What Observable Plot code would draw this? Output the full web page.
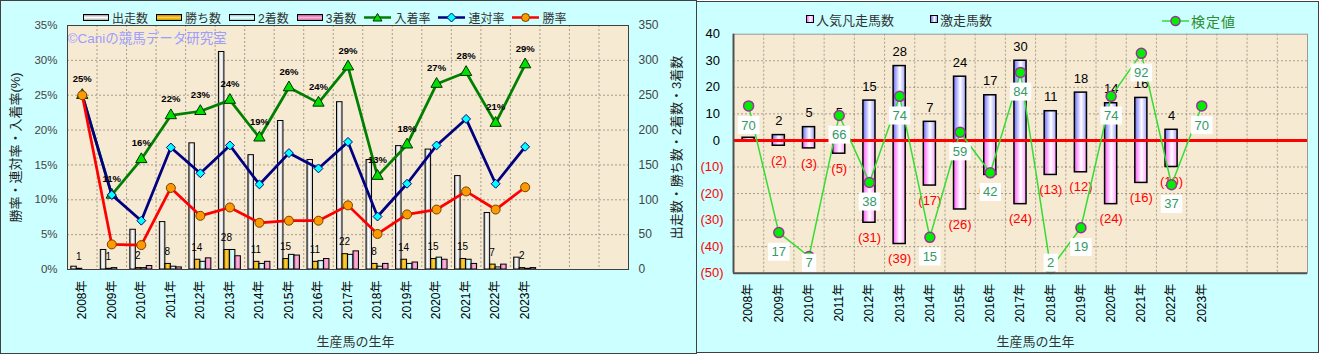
<!DOCTYPE html>
<html><head><meta charset="utf-8">
<script src="https://cdn.jsdelivr.net/npm/d3@7"></script>
<script src="https://cdn.jsdelivr.net/npm/@observablehq/plot@0.6"></script>
<style>
html,body{margin:0;padding:0;background:#fff;}
body{width:1322px;height:356px;position:relative;overflow:hidden;font-family:"Liberation Sans","Noto Sans CJK JP",sans-serif;}
.panel{position:absolute;background:#ccffff;box-sizing:border-box;}
#left{left:0;top:0;width:697px;height:354px;border:1px solid #404040;}
#right{left:697px;top:1px;width:622px;height:352px;border:1px solid #404040;border-left:none;}
.panel > svg{position:absolute;left:0;top:0;}
.legend{position:absolute;display:flex;align-items:center;height:16px;font-size:12px;color:#333;white-space:nowrap;z-index:2;}
.legend svg{display:block;position:static;}
.item{display:flex;align-items:center;}
.sw{display:inline-block;box-sizing:border-box;border:1px solid #000;}
</style></head><body>
<div id="left" class="panel"></div>
<div id="right" class="panel"></div>
<script>
// ---------- data ----------
const years = ["2008年","2009年","2010年","2011年","2012年","2013年","2014年","2015年","2016年","2017年","2018年","2019年","2020年","2021年","2022年","2023年"];
const slotCount = 19; // x slots (three empty after 2023)

// left chart
const starts     = [4, 28, 57, 68, 181, 312, 164, 213, 157, 240, 157, 177, 172, 134, 81, 17];
const wins       = [1, 1, 2, 8, 14, 28, 11, 15, 11, 22, 8, 14, 15, 15, 7, 2];
const seconds    = [0, 2, 2, 4, 11, 28, 8, 21, 12, 21, 4, 8, 17, 14, 3, 1];
const thirds     = [0, 0, 5, 3, 16, 19, 11, 20, 15, 26, 8, 10, 14, 8, 7, 2];
const placeRate  = [25, 10.7, 15.8, 22.1, 22.7, 24.3, 18.9, 26.1, 23.9, 29.1, 13.4, 17.9, 26.6, 28.3, 21.0, 29.4];
const rentaiRate = [25, 10.7, 7.0, 17.5, 13.8, 17.8, 12.2, 16.7, 14.5, 18.3, 7.6, 12.3, 17.8, 21.6, 12.3, 17.6];
const winRate    = [25, 3.6, 3.5, 11.7, 7.7, 8.9, 6.7, 7.0, 7.0, 9.2, 5.1, 7.9, 8.6, 11.2, 8.6, 11.8];
const pctTicks   = [0, 5, 10, 15, 20, 25, 30, 35];
const countPerPct = 10; // right axis: 0–350 on 0–35%
const seriesL = ["出走数","勝ち数","2着数","3着数","入着率","連対率","勝率"];
const titleL = {y: "勝率・連対率・入着率(%)", y2: "出走数・勝ち数・2着数・3着数", x: "生産馬の生年", mark: "©Caniの競馬データ研究室"};

// right chart
const gekisou = [1, 2, 5, 5, 15, 28, 7, 24, 17, 30, 11, 18, 14, 16, 4, 0];
const bonsou  = [0, 2, 3, 5, 31, 39, 17, 26, 13, 24, 13, 12, 24, 16, 10, 0];
const kentei  = [70, 17, 7, 66, 38, 74, 15, 59, 42, 84, 2, 19, 74, 92, 37, 70];
const posTicksR = [0, 10, 20, 30, 40];
const negTicksR = [-50, -40, -30, -20, -10];
const seriesR = ["人気凡走馬数","激走馬数","検定値"];
const titleR = {x: "生産馬の生年"};
// 検定値 lives on a hidden 0–100 axis spanning −50…40
const kenteiToY = v => -50 + v * 0.9;

// ---------- helpers ----------
const ns = "http://www.w3.org/2000/svg";
const font = "'Liberation Sans','Noto Sans CJK JP',sans-serif";
const cx = i => i + 0.5;
const boundaries = d3.range(1, slotCount);
const gridStyle = {stroke: "#8c8474", strokeOpacity: 0.75, strokeDasharray: "2,2"};

function addDefs(svg, html) {
  const defs = document.createElementNS(ns, "defs");
  defs.innerHTML = html;
  svg.insertBefore(defs, svg.firstChild);
}
function hGrad(id, stops) {
  return `<linearGradient id="${id}" x1="0" x2="1" y1="0" y2="0">` +
    stops.map(([o, c]) => `<stop offset="${o}" stop-color="${c}"/>`).join("") + `</linearGradient>`;
}

// ---------- left chart ----------
const rowsL = years.map((y, i) => ({i, year: y, starts: starts[i], wins: wins[i], seconds: seconds[i], thirds: thirds[i],
  place: placeRate[i], rentai: rentaiRate[i], win: winRate[i]}));
const bwL = 0.186;
const barSeries = [["starts", "url(#gW)"], ["wins", "url(#gO)"], ["seconds", "url(#gC)"], ["thirds", "url(#gP)"]];

const plotL = Plot.plot({
  width: 695, height: 352,
  marginLeft: 66, marginRight: 68, marginTop: 24, marginBottom: 84,
  style: {fontFamily: font, fontSize: "12px", background: "transparent", overflow: "visible"},
  x: {type: "linear", domain: [0, slotCount]},
  y: {domain: [0, 35]},
  marks: [
    Plot.frame({fill: "#f7ead2", stroke: null}),
    Plot.gridY({ticks: pctTicks.slice(1, -1), ...gridStyle}),
    Plot.gridX({ticks: boundaries, ...gridStyle}),
    ...barSeries.map(([key, fill], k) => Plot.rect(rowsL, {
      x1: d => cx(d.i) + (k - 1.5) * bwL - bwL / 2,
      x2: d => cx(d.i) + (k - 1.5) * bwL + bwL / 2,
      y1: 0, y2: d => d[key] / countPerPct,
      fill, stroke: "#000", strokeWidth: 1
    })),
    Plot.text(rowsL, {x: d => cx(d.i), y: d => d.wins / countPerPct, text: d => String(d.wins), dy: -12, dx: -3.5, fontSize: 10, fill: "#000"}),
    Plot.line(rowsL, {x: d => cx(d.i), y: "place", stroke: "#008000", strokeWidth: 2.75}),
    Plot.dot(rowsL, {x: d => cx(d.i), y: "place", symbol: "triangle", r: 4.2, fill: "#00e000", stroke: "#003000", strokeWidth: 1}),
    Plot.line(rowsL, {x: d => cx(d.i), y: "rentai", stroke: "#000080", strokeWidth: 2.75}),
    Plot.dot(rowsL, {x: d => cx(d.i), y: "rentai", symbol: "diamond2", r: 4, fill: "#00ffff", stroke: "#000080", strokeWidth: 1}),
    Plot.line(rowsL, {x: d => cx(d.i), y: "win", stroke: "#ff0000", strokeWidth: 2.75}),
    Plot.dot(rowsL, {x: d => cx(d.i), y: "win", r: 4.5, fill: "#ff9900", stroke: "#704000", strokeWidth: 1}),
    Plot.text(rowsL, {x: d => cx(d.i), y: "place", text: d => `${Math.round(d.place)}%`, dy: -16, fontSize: 9.5, fontWeight: "bold", fill: "#000"}),
    Plot.text([titleL.mark], {frameAnchor: "top-left", textAnchor: "start", lineAnchor: "middle", dy: 13.5, dx: 0, fontSize: 13.5, fill: "#9d9dff"}),
    Plot.axisY({anchor: "left", ticks: pctTicks, tickFormat: d => `${d}%`, tickSize: 0, tickPadding: 10, fontSize: 11.5, fill: "#444", label: null}),
    Plot.axisY({anchor: "right", ticks: pctTicks, tickFormat: d => String(d * countPerPct), tickSize: 0, tickPadding: 10, fontSize: 12, fill: "#444", label: null}),
    Plot.axisX({ticks: years.map((_, i) => cx(i)), tickFormat: d => years[Math.floor(d)], tickRotate: -90, tickSize: 0, tickPadding: 11, fontSize: 12, fill: "#000", label: null}),
    Plot.text([titleL.y], {frameAnchor: "left", textAnchor: "middle", lineAnchor: "middle", rotate: -90, dx: -51.5, fontSize: 13, fill: "#222"}),
    Plot.text([titleL.y2], {frameAnchor: "right", textAnchor: "middle", lineAnchor: "middle", rotate: -90, dx: 48, fontSize: 13, fill: "#222"}),
    Plot.text([titleL.x], {frameAnchor: "bottom", textAnchor: "middle", lineAnchor: "middle", dy: 72.7, dx: 7.5, fontSize: 13, fill: "#333"}),
    Plot.frame({stroke: "#404040"})
  ]
});
addDefs(plotL,
  hGrad("gW", [[0, "#a0a0a0"], [0.45, "#ffffff"], [1, "#c4c4c4"]]) +
  hGrad("gO", [[0, "#d09000"], [0.5, "#ffd23c"], [1, "#dca000"]]) +
  hGrad("gC", [[0, "#8ecfcf"], [0.5, "#e8ffff"], [1, "#a8e4e4"]]) +
  hGrad("gP", [[0, "#dc6aa8"], [0.5, "#ffb4dc"], [1, "#e888c0"]]));
document.getElementById("left").appendChild(plotL);

// left legend
(function () {
  const leg = document.createElement("div");
  leg.className = "legend";
  leg.style.left = "82px"; leg.style.top = "8px";
  const barFills = [
    "linear-gradient(to bottom,#a0a0a0,#ffffff 50%,#b0b0b0)",
    "linear-gradient(to bottom,#c88800,#ffd040 50%,#d09800)",
    "linear-gradient(to bottom,#8ecfcf,#f0ffff 50%,#9ad8d8)",
    "linear-gradient(to bottom,#c85a98,#ffb0d8 50%,#d070a8)"
  ];
  const lineSyms = [
    ["#008000", `<path d="M13.5,1.5 L18,9 L9,9 Z" fill="#00e000" stroke="#003000" stroke-width="1"/>`],
    ["#000080", `<path d="M13.5,1 L18,5.5 L13.5,10 L9,5.5 Z" fill="#00ffff" stroke="#000080" stroke-width="1"/>`],
    ["#ff0000", `<circle cx="13.5" cy="5.5" r="4" fill="#ff9900" stroke="#704000" stroke-width="1"/>`]
  ];
  seriesL.forEach((name, k) => {
    const it = document.createElement("div");
    it.className = "item";
    if (k > 0) it.style.marginLeft = "8px";
    let sym;
    if (k < 4) {
      sym = `<span class="sw" style="width:26px;height:7px;background:${barFills[k]}"></span>`;
    } else {
      const [c, m] = lineSyms[k - 4];
      sym = `<svg width="27" height="11"><line x1="0" x2="27" y1="5.5" y2="5.5" stroke="${c}" stroke-width="2.5"/>${m}</svg>`;
    }
    it.innerHTML = sym + `<span style="margin-left:3px">${name}</span>`;
    leg.appendChild(it);
  });
  document.getElementById("left").appendChild(leg);
})();

// ---------- right chart ----------
const rowsR = years.map((y, i) => ({i, year: y, geki: gekisou[i], bon: bonsou[i], kentei: kentei[i]}));
const bwR = 0.4;
const plotR = Plot.plot({
  width: 621, height: 350,
  marginLeft: 36, marginRight: 11, marginTop: 31.7, marginBottom: 79.3,
  style: {fontFamily: font, fontSize: "12px", background: "transparent", overflow: "visible"},
  x: {type: "linear", domain: [0, slotCount]},
  y: {domain: [-50, 40]},
  marks: [
    Plot.frame({fill: "#f7ead2", stroke: null}),
    Plot.gridY({ticks: [-40, -30, -20, -10, 10, 20, 30], ...gridStyle}),
    Plot.gridX({ticks: boundaries, ...gridStyle}),
    Plot.rect(rowsR, {x1: d => cx(d.i) - bwR / 2, x2: d => cx(d.i) + bwR / 2, y1: 0, y2: "geki", fill: "url(#gB)", stroke: "#000", strokeWidth: 1.5}),
    Plot.rect(rowsR, {x1: d => cx(d.i) - bwR / 2, x2: d => cx(d.i) + bwR / 2, y1: 0, y2: d => -d.bon, fill: "url(#gK)", stroke: "#000", strokeWidth: 1.5}),
    Plot.ruleY([0], {stroke: "#ff0000", strokeWidth: 3}),
    Plot.text(rowsR.filter(d => d.geki > 0), {x: d => cx(d.i), y: "geki", text: d => String(d.geki), dy: -14, fontSize: 13, fill: "#000"}),
    Plot.text(rowsR.filter(d => d.bon > 0), {x: d => cx(d.i), y: d => -d.bon, text: d => `(${d.bon})`, dy: 15, fontSize: 13, fill: "#ff0000"}),
    Plot.line(rowsR, {x: d => cx(d.i), y: d => kenteiToY(d.kentei), stroke: "#33dd33", strokeWidth: 1.5}),
    Plot.dot(rowsR, {x: d => cx(d.i), y: d => kenteiToY(d.kentei), r: 5, fill: "#00ee00", stroke: "#993399", strokeWidth: 1.5}),
    Plot.text(rowsR, {x: d => cx(d.i), y: d => kenteiToY(d.kentei), text: d => String(d.kentei), dy: 19.5, fontSize: 13, fill: "#339966", ariaDescription: "kentei-label"}),
    Plot.axisY({ticks: posTicksR, tickFormat: d => `${d}\u2008`, tickSize: 0, tickPadding: 10, fontSize: 13, fill: "#000", label: null}),
    Plot.axisY({ticks: negTicksR, tickFormat: d => `(${-d})`, tickSize: 0, tickPadding: 10, fontSize: 13, fill: "#ff0000", label: null}),
    Plot.axisX({ticks: years.map((_, i) => cx(i)), tickFormat: d => years[Math.floor(d)], tickRotate: -90, tickSize: 0, tickPadding: 10.6, fontSize: 12, fill: "#000", label: null}),
    Plot.text([titleR.x], {frameAnchor: "bottom", textAnchor: "middle", lineAnchor: "middle", dy: 69, dx: 15, fontSize: 13, fill: "#333"}),
    Plot.frame({stroke: "#9a9a9a"}),
    Plot.ruleX([0], {stroke: "#505050", strokeWidth: 2}),
    Plot.ruleY([-50], {stroke: "#505050", strokeWidth: 2})
  ]
});
addDefs(plotR,
  hGrad("gB", [[0, "#6e6eff"], [0.55, "#ffffff"], [1, "#a0a0ff"]]) +
  hGrad("gK", [[0, "#ff5cff"], [0.55, "#ffffff"], [1, "#ff9cff"]]));
document.getElementById("right").appendChild(plotR);

// white boxes behind 検定値 labels (kept inside the plot area)
(function () {
  const s = plotR.getBoundingClientRect();
  const frameBottom = 350 - 79.3;
  let texts = plotR.querySelectorAll('g[aria-description="kentei-label"] text');
  if (!texts.length) {
    // fallback: the text mark whose labels use the 検定値 colour
    texts = [...plotR.querySelectorAll("g")].filter(g => (g.getAttribute("fill") || "").toLowerCase() === "#339966")
      .flatMap(g => [...g.querySelectorAll("text")]);
  }
  texts.forEach(t => {
    const r = t.getBoundingClientRect();
    const padX = 3.5, padY = 1.5;
    const bottom = r.bottom - s.top + padY;
    const shift = bottom > frameBottom - 1 ? (frameBottom - 1 - bottom) : 0;
    const inv = t.parentNode.getScreenCTM().inverse();
    const p0 = new DOMPoint(r.left - padX, r.top - padY + shift).matrixTransform(inv);
    const p1 = new DOMPoint(r.right + padX, r.bottom + padY + shift).matrixTransform(inv);
    const rect = document.createElementNS(ns, "rect");
    rect.setAttribute("x", p0.x); rect.setAttribute("y", p0.y);
    rect.setAttribute("width", p1.x - p0.x); rect.setAttribute("height", p1.y - p0.y);
    rect.setAttribute("fill", "#ffffff"); rect.setAttribute("stroke", "none");
    t.parentNode.insertBefore(rect, t);
    if (shift) t.setAttribute("transform", `translate(0,${shift}) ` + (t.getAttribute("transform") || ""));
  });
})();

// right legend
(function () {
  const panel = document.getElementById("right");
  const lefts = [109, 233, 465];
  const fills = ["linear-gradient(to right,#ff5cff,#ffffff 55%,#ff9cff)", "linear-gradient(to right,#6e6eff,#ffffff 55%,#a0a0ff)"];
  seriesR.forEach((name, k) => {
    const it = document.createElement("div");
    it.className = "legend";
    it.style.left = lefts[k] + "px"; it.style.top = "9px"; it.style.fontSize = "13px";
    if (k < 2) {
      it.innerHTML = `<span class="sw" style="width:8px;height:8px;border-width:1.5px;background:${fills[k]}"></span><span style="margin-left:2px">${name}</span>`;
    } else {
      it.style.color = "#2d8c2d"; it.style.fontSize = "14px"; it.style.top = "11px";
      it.innerHTML = `<svg width="27" height="12"><line x1="0" x2="27" y1="6" y2="6" stroke="#33dd33" stroke-width="1.5"/><circle cx="13.5" cy="6" r="4.5" fill="#00ee00" stroke="#993399" stroke-width="1.5"/></svg><span style="margin-left:2px;letter-spacing:1px">${name}</span>`;
    }
    panel.appendChild(it);
  });
})();
</script></body></html>
